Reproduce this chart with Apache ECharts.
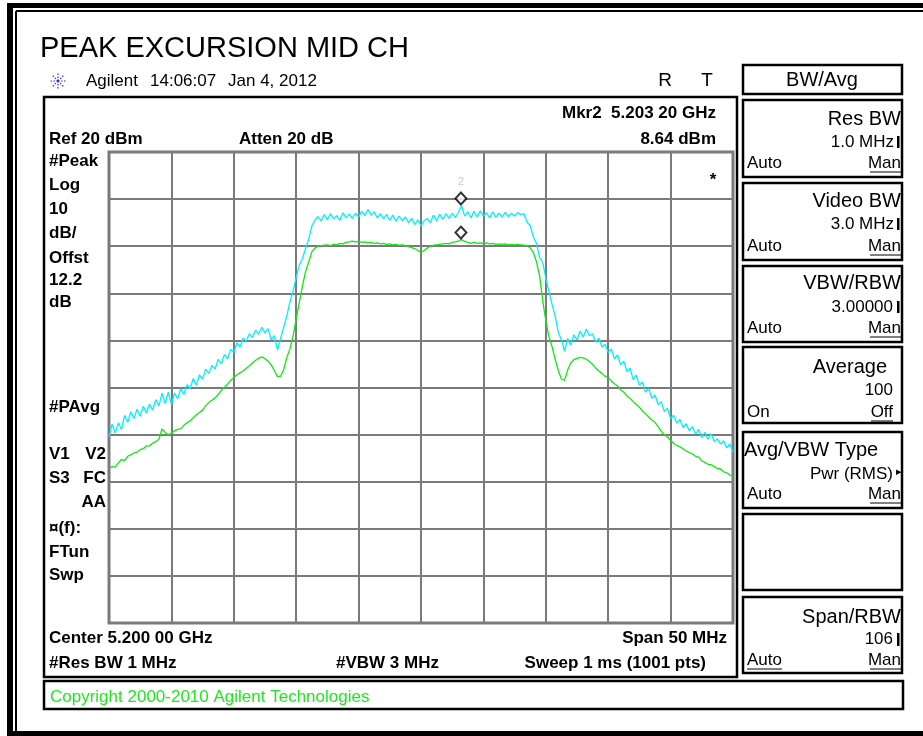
<!DOCTYPE html>
<html><head><meta charset="utf-8">
<script src="https://cdn.jsdelivr.net/npm/echarts@6/dist/echarts.min.js"></script>
<style>html,body{margin:0;padding:0;background:#fff}#c{width:923px;height:736px}</style>
</head><body><div id="c"></div>
<script>
// Sweep: 5175 MHz .. 5225 MHz, sampled every 0.25 MHz (201 readings)
const sweepStartMHz = 5175;
const sweepStepMHz = 0.25;
const xMinMHz = 5175, xMaxMHz = 5225, xDivMHz = 5;
const yRefDbm = 20, yBottomDbm = -80, yDivDb = 10;

// Trace 1 (#Peak, cyan), dBm
const peakTrace = [
-40.5,-37.8,-39.6,-37.5,-38.9,-35.9,-37.4,-35.2,-36.6,-34.6,
-36.1,-34.0,-35.4,-33.5,-34.8,-32.6,-33.9,-31.2,-33.4,-31.0,
-33.6,-31.2,-32.4,-30.2,-31.5,-29.4,-30.3,-28.1,-29.5,-27.3,
-28.2,-26.1,-27.0,-25.3,-26.1,-24.0,-25.0,-23.0,-23.9,-21.9,
-22.6,-20.5,-21.4,-19.5,-20.2,-18.6,-19.4,-17.8,-18.7,-17.2,
-18.4,-17.5,-19.9,-19.0,-22.0,-19.6,-17.2,-14.8,-11.8,-9.5,
-6.6,-4.0,-2.6,-0.5,1.5,4.2,5.5,6.3,5.4,6.7,
5.6,6.9,5.8,6.5,5.5,7.1,6.0,6.8,5.9,7.0,
6.2,7.4,6.5,7.8,6.6,7.3,6.0,6.9,5.8,6.7,
5.5,6.6,5.3,6.4,5.4,6.2,5.0,5.9,4.6,5.6,
4.3,5.4,5.9,5.0,6.6,5.4,6.8,5.7,6.9,5.9,
7.0,6.1,7.2,8.6,6.4,7.3,6.0,7.4,6.2,7.5,
6.4,7.1,6.0,7.3,6.1,7.0,6.2,7.2,6.3,7.0,
6.4,7.1,6.7,6.9,5.1,4.4,2.0,0.6,-2.4,-3.4,
-6.8,-9.6,-12.3,-14.8,-18.3,-19.8,-22.3,-19.6,-21.0,-18.8,
-19.9,-18.0,-19.3,-17.6,-19.0,-18.6,-20.4,-19.5,-21.4,-20.8,
-22.6,-21.8,-23.9,-23.1,-25.2,-24.4,-26.6,-25.9,-28.3,-27.4,
-29.5,-28.8,-31.0,-30.2,-32.3,-31.6,-33.6,-33.0,-35.1,-34.4,
-36.6,-35.9,-37.6,-36.8,-38.5,-37.7,-39.2,-38.3,-39.9,-38.9,
-40.6,-39.5,-41.0,-39.8,-41.5,-40.9,-42.0,-41.3,-42.8,-42.0,
-43.7
];

// Trace 2 (#PAvg, green), dBm
const avgTrace = [
-47.2,-46.8,-46.9,-46.0,-45.3,-45.5,-44.6,-44.3,-43.9,-43.7,
-43.2,-43.0,-42.4,-42.4,-41.8,-41.5,-41.0,-38.8,-39.5,-40.1,
-39.7,-39.2,-38.9,-38.8,-38.0,-37.5,-37.1,-36.4,-35.8,-35.3,
-34.8,-33.9,-33.2,-32.7,-32.2,-31.5,-30.6,-30.0,-29.3,-28.5,
-27.9,-27.3,-26.9,-26.5,-25.9,-25.4,-24.8,-24.2,-23.8,-23.5,
-23.9,-24.4,-25.2,-26.4,-27.7,-27.6,-26.2,-23.6,-21.8,-19.1,
-15.4,-12.0,-8.5,-5.4,-3.4,-1.2,-0.4,0.0,0.1,0.2,
0.3,0.1,0.4,0.3,0.6,0.5,0.8,0.9,1.1,0.9,
1.0,0.8,0.9,0.7,0.8,0.6,0.7,0.5,0.6,0.4,
0.5,0.3,0.4,0.2,0.3,0.1,-0.1,-0.3,-0.5,-0.9,
-1.3,-0.9,-0.4,0.0,0.2,0.3,0.4,0.5,0.6,0.5,
0.8,0.9,1.1,1.4,1.0,0.8,0.6,0.8,0.6,0.7,
0.5,0.7,0.5,0.6,0.4,0.5,0.4,0.5,0.3,0.4,
0.3,0.4,0.3,0.2,0.1,-0.4,-1.3,-3.3,-6.2,-11.5,
-15.8,-19.2,-21.3,-24.0,-26.4,-28.2,-28.5,-26.3,-24.8,-24.1,
-23.8,-23.6,-23.7,-24.0,-24.5,-25.1,-25.9,-26.5,-27.0,-27.6,
-27.9,-28.6,-29.2,-29.7,-30.5,-31.0,-31.8,-32.3,-33.0,-33.6,
-34.2,-35.0,-35.6,-36.3,-36.9,-37.4,-38.3,-39.3,-40.0,-40.5,
-41.2,-41.9,-42.3,-42.6,-43.0,-43.5,-43.8,-44.1,-44.6,-44.8,
-45.6,-45.9,-46.3,-46.4,-46.8,-47.2,-47.3,-47.9,-48.1,-48.6,
-48.8
];

// Markers
const markerFreqMHz = [5203.2, 5203.2];
const markerLevelDbm = [8.64, 1.4];
const markerNames = ['2', '1'];

const toXY = arr => arr.map((v, i) => [sweepStartMHz + i * sweepStepMHz, v]);

const BF = 'bold 17px "Liberation Sans", Arial, sans-serif';
const RF = '17px "Liberation Sans", Arial, sans-serif';
const KF = '20px "Liberation Sans", Arial, sans-serif';

const G = [];
function T(x, y, text, font, align, color) {
  G.push({type:'text', x:x, y:y, silent:true, z:10,
    style:{text:text, font:font, fill:color||'#000', align:align||'left', verticalAlign:'middle'}});
}
function R(x, y, w, h, fill) {
  G.push({type:'rect', silent:true, z:5, shape:{x:x,y:y,width:w,height:h}, style:{fill:fill||'#000'}});
}
function B(x, y, w, h, lw) {
  G.push({type:'rect', silent:true, z:5, shape:{x:x,y:y,width:w,height:h}, style:{fill:null, stroke:'#000', lineWidth:lw||2}});
}
function L(x1, y1, x2, y2, color, lw, dash) {
  G.push({type:'line', silent:true, z:10, shape:{x1:x1,y1:y1,x2:x2,y2:y2},
    style:{stroke:color||'#000', lineWidth:lw||1, lineDash:dash||null}});
}

// outer frame (top, left and bottom edges; right side is open)
R(7, 3, 916, 5); R(7, 3, 6, 733); R(7, 731, 916, 5);
L(16, 11, 923, 11, '#000', 2); L(16, 11, 16, 731, '#000', 2);

// title + header line
T(40, 49, 'PEAK EXCURSION MID CH', '29px "Liberation Sans", Arial, sans-serif');
// Agilent logo (starburst)
const cx = 58, cy = 81;
[[0,-8],[0,8],[-8,0],[8,0],[-6,-6],[6,6],[-6,6],[6,-6]].forEach(p => L(cx, cy, cx+p[0], cy+p[1], '#2a2aff', 1.2, [1.5,1.5]));
T(86, 81, 'Agilent', RF);
T(150, 81, '14:06:07', RF);
T(228, 81, 'Jan 4, 2012', RF);
T(665, 81, 'R', '19px "Liberation Sans", Arial, sans-serif', 'center');
T(707, 81, 'T', '19px "Liberation Sans", Arial, sans-serif', 'center');

// main display box + copyright box
B(44, 97, 693, 580, 2.5);
B(44, 681, 859, 28, 2.5);
T(50, 697, 'Copyright 2000-2010 Agilent Technologies', RF, 'left', '#1ee81e');

// annotations
T(716, 113, 'Mkr2  5.203 20 GHz', BF, 'right');
T(716, 139, '8.64 dBm', BF, 'right');
T(49, 139, 'Ref 20 dBm', BF);
T(239, 139, 'Atten 20 dB', BF);
[['#Peak',161],['Log',185],['10',209],['dB/',233],['Offst',258],['12.2',280],['dB',302],
 ['#PAvg',407],['V1',454],['S3',478],['\u00a4(f):',528],['FTun',552],['Swp',575]].forEach(a => T(49, a[1], a[0], BF));
T(106, 454, 'V2', BF, 'right');
T(106, 478, 'FC', BF, 'right');
T(106, 502, 'AA', BF, 'right');
T(713, 180, '*', BF, 'center');
T(49, 638, 'Center 5.200 00 GHz', BF);
T(727, 638, 'Span 50 MHz', BF, 'right');
T(49, 663, '#Res BW 1 MHz', BF);
T(336, 663, '#VBW 3 MHz', BF);
T(706, 663, 'Sweep 1 ms (1001 pts)', BF, 'right');

// softkey panel
B(743, 65, 159, 29, 2.5);
T(822, 80, 'BW/Avg', KF, 'center');
const boxes = [[100,177],[183,260],[266,342],[347,423],[432,508],[514,590],[597,673]];
boxes.forEach(b => B(743, b[0], 159, b[1]-b[0], 2.5));
function underline(x1, x2, y) { L(x1, y, x2, y, '#000', 1); }
// Res BW
T(901, 119, 'Res BW', KF, 'right'); T(894, 142, '1.0 MHz', RF, 'right'); R(897, 136, 2.5, 12);
T(747, 163, 'Auto', RF); T(901, 163, 'Man', RF, 'right'); underline(870, 901, 172);
// Video BW
T(901, 201, 'Video BW', KF, 'right'); T(894, 224, '3.0 MHz', RF, 'right'); R(897, 218, 2.5, 12);
T(747, 246, 'Auto', RF); T(901, 246, 'Man', RF, 'right'); underline(870, 901, 255);
// VBW/RBW
T(901, 283, 'VBW/RBW', KF, 'right'); T(893, 307, '3.00000', RF, 'right'); R(897, 301, 2.5, 12);
T(747, 328, 'Auto', RF); T(901, 328, 'Man', RF, 'right'); underline(870, 901, 337);
// Average
T(887, 367, 'Average', KF, 'right'); T(893, 390, '100', RF, 'right');
T(747, 412, 'On', RF); T(893, 412, 'Off', RF, 'right'); underline(871, 893, 421);
// Avg/VBW Type
T(744, 450, 'Avg/VBW Type', KF, 'left'); T(893, 474, 'Pwr (RMS)', RF, 'right'); T(896, 472, '\u25b8', '11px "DejaVu Sans", sans-serif');
T(747, 494, 'Auto', RF); T(901, 494, 'Man', RF, 'right'); underline(870, 901, 503);
// Span/RBW
T(901, 617, 'Span/RBW', KF, 'right'); T(893, 639, '106', RF, 'right'); R(897, 633, 2.5, 13);
T(747, 660, 'Auto', RF); underline(747, 782, 669); T(901, 660, 'Man', RF, 'right'); underline(870, 901, 669);

const chart = echarts.init(document.getElementById('c'), null, {renderer:'canvas'});
chart.setOption({
  backgroundColor:'#fff',
  animation:false,
  grid:{left:109, top:152, width:624, height:471, show:true, borderColor:'#7a7a7a', borderWidth:3, backgroundColor:'transparent'},
  xAxis:{type:'value', min:xMinMHz, max:xMaxMHz, interval:xDivMHz,
    axisLabel:{show:false}, axisTick:{show:false}, axisLine:{show:false},
    splitLine:{show:true, lineStyle:{color:'#7a7a7a', width:2}}},
  yAxis:{type:'value', min:yBottomDbm, max:yRefDbm, interval:yDivDb,
    axisLabel:{show:false}, axisTick:{show:false}, axisLine:{show:false},
    splitLine:{show:true, lineStyle:{color:'#7a7a7a', width:2}}},
  series:[
    {type:'line', data:toXY(peakTrace), showSymbol:false, symbol:'none', lineStyle:{color:'#00f0ff', width:1.3}, z:3},
    {type:'line', data:toXY(avgTrace), showSymbol:false, symbol:'none', lineStyle:{color:'#10e810', width:1.3}, z:4},
    {type:'scatter', z:6,
      data: markerFreqMHz.map((f,i)=>({value:[f, markerLevelDbm[i]], label:{show:true, formatter:markerNames[i], color: i===0 ? '#b8b8b8' : '#e4e4e4'}})),
      symbol:'diamond', symbolSize:[11,12], symbolOffset:[0,-7],
      itemStyle:{color:'#fff', borderColor:'#000', borderWidth:2},
      label:{show:true, position:'top', distance:4, fontSize:11, fontFamily:'"Liberation Sans", Arial'}}
  ],
  graphic: G
});
</script></body></html>
